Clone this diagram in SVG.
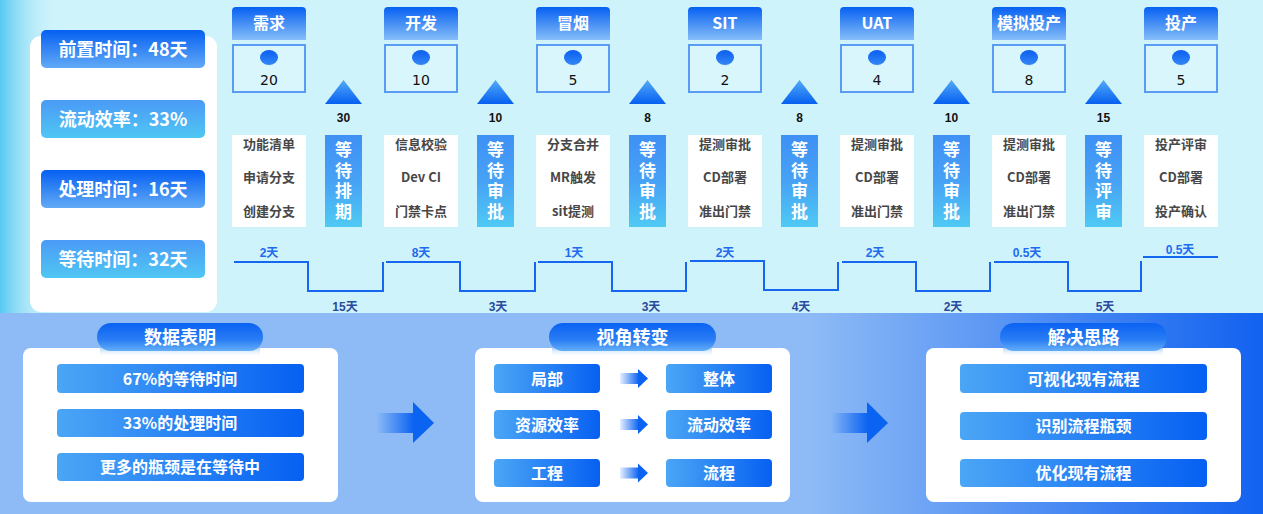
<svg xmlns="http://www.w3.org/2000/svg" width="1263" height="514" viewBox="0 0 1263 514">
<defs>
<linearGradient id="gHead" x1="0" y1="0" x2="0" y2="1"><stop offset="0" stop-color="#0660F2"/><stop offset="1" stop-color="#86BEF8"/></linearGradient>
<linearGradient id="gMA" x1="0" y1="0" x2="0" y2="1"><stop offset="0" stop-color="#0660F2"/><stop offset="1" stop-color="#62AAF6"/></linearGradient>
<linearGradient id="gMB" x1="0" y1="0" x2="0" y2="1"><stop offset="0" stop-color="#4A9AF6"/><stop offset="1" stop-color="#50C7F3"/></linearGradient>
<linearGradient id="gTri" x1="0" y1="0" x2="0" y2="1"><stop offset="0" stop-color="#52AAF6"/><stop offset="1" stop-color="#0660F1"/></linearGradient>
<linearGradient id="gWait" x1="0" y1="0" x2="0" y2="1"><stop offset="0" stop-color="#3F90F5"/><stop offset="0.5" stop-color="#47A2F5"/><stop offset="1" stop-color="#4FCAF4"/></linearGradient>
<linearGradient id="gItem" x1="0" y1="0" x2="1" y2="0"><stop offset="0" stop-color="#4BA6F6"/><stop offset="1" stop-color="#0660F2"/></linearGradient>
<linearGradient id="gPill" x1="0" y1="0" x2="0" y2="1"><stop offset="0" stop-color="#0A62F2"/><stop offset="0.6" stop-color="#2A7DF4"/><stop offset="1" stop-color="#63AEF7"/></linearGradient>
<linearGradient id="gRefl" x1="0" y1="0" x2="0" y2="1"><stop offset="0" stop-color="#8CC0F8" stop-opacity="0.7"/><stop offset="1" stop-color="#FFFFFF" stop-opacity="0"/></linearGradient>
<linearGradient id="gDot" x1="0" y1="0" x2="0" y2="1"><stop offset="0" stop-color="#0A5FF0"/><stop offset="1" stop-color="#3486F4"/></linearGradient>
<linearGradient id="gABody" x1="0" y1="0" x2="1" y2="0"><stop offset="0" stop-color="#0B63F2" stop-opacity="0"/><stop offset="1" stop-color="#0B63F2"/></linearGradient>
<linearGradient id="gSBody" x1="0" y1="0" x2="1" y2="0"><stop offset="0" stop-color="#0B63F2" stop-opacity="0.1"/><stop offset="1" stop-color="#0B63F2"/></linearGradient>
<linearGradient id="gBot" x1="0" y1="0" x2="1" y2="0"><stop offset="0" stop-color="#8EBBF6"/><stop offset="0.64" stop-color="#8EBBF6"/><stop offset="1" stop-color="#1262F0"/></linearGradient>
<linearGradient id="gStrip" x1="0" y1="0" x2="1" y2="0"><stop offset="0" stop-color="#55C8F1"/><stop offset="1" stop-color="#CFF3FB" stop-opacity="0"/></linearGradient>
<style>
.cj{font-family:"Noto Sans CJK SC","Noto Sans",sans-serif;font-weight:bold;}
.wt{fill:#FFFFFF;text-anchor:middle;}
.metric{font-size:18px;}
.head{font-size:16px;}
.task{font-size:13px;fill:#474747;text-anchor:middle;}
.vert{font-size:17px;fill:#FFFFFF;writing-mode:vertical-rl;text-anchor:start;letter-spacing:3.5px;}
.num{font-family:"DejaVu Sans",sans-serif;font-size:14px;fill:#111;text-anchor:middle;}
.tnum{font-family:"Liberation Sans",Arial,sans-serif;font-weight:bold;font-size:12px;fill:#111;text-anchor:middle;}
.tl{font-family:"Liberation Sans","Noto Sans CJK SC",sans-serif;font-weight:bold;font-size:12px;text-anchor:middle;}
.tup{fill:#1E6BEF;}
.tdn{fill:#2A4A9C;}
.sbox{fill:#D9F6FD;stroke:#5A9CF3;stroke-width:2;}
.tbox{fill:#FFFFFF;}
.step{fill:none;stroke:#1567F0;stroke-width:2;}
.panel{fill:#FFFFFF;}
.title{font-size:18px;}
.item{font-size:16px;}
</style>
</defs>

<!-- backgrounds -->
<rect x="0" y="0" width="1263" height="314" fill="#CFF3FB"/>
<rect x="0" y="0" width="60" height="314" fill="url(#gStrip)"/>
<rect x="0" y="313" width="1263" height="201" fill="url(#gBot)"/>

<!-- left metrics -->
<g id="metrics">
<rect x="30" y="36" width="187" height="276" rx="11" class="panel"/>
<rect x="41" y="30" width="164" height="38" rx="5" fill="url(#gMA)"/>
<text x="123" y="56" class="cj wt metric">前置时间：48天</text>
<rect x="41" y="100" width="164" height="38" rx="5" fill="url(#gMB)"/>
<text x="123" y="126" class="cj wt metric">流动效率：33%</text>
<rect x="41" y="170" width="164" height="38" rx="5" fill="url(#gMA)"/>
<text x="123" y="196" class="cj wt metric">处理时间：16天</text>
<rect x="41" y="240" width="164" height="38" rx="5" fill="url(#gMB)"/>
<text x="123" y="266" class="cj wt metric">等待时间：32天</text>
</g>

<!-- stages -->
<g id="stage-xuqiu">
<path d="M232 40 V11 Q232 7 236 7 H302 Q306 7 306 11 V40 Z" fill="url(#gHead)"/>
<text x="269" y="29" class="cj wt head">需求</text>
<rect x="233" y="45" width="72" height="47" class="sbox"/>
<ellipse cx="269" cy="57.5" rx="9" ry="7.5" fill="url(#gDot)"/>
<text x="269" y="85" class="num">20</text>
<rect x="232" y="135" width="74" height="92" class="tbox"/>
<text x="269" y="149" class="cj task">功能清单</text>
<text x="269" y="182" class="cj task">申请分支</text>
<text x="269" y="216" class="cj task">创建分支</text>
</g>
<g id="stage-kaifa">
<path d="M384 40 V11 Q384 7 388 7 H454 Q458 7 458 11 V40 Z" fill="url(#gHead)"/>
<text x="421" y="29" class="cj wt head">开发</text>
<rect x="385" y="45" width="72" height="47" class="sbox"/>
<ellipse cx="421" cy="57.5" rx="9" ry="7.5" fill="url(#gDot)"/>
<text x="421" y="85" class="num">10</text>
<rect x="384" y="135" width="74" height="92" class="tbox"/>
<text x="421" y="149" class="cj task">信息校验</text>
<text x="421" y="182" class="cj task">Dev CI</text>
<text x="421" y="216" class="cj task">门禁卡点</text>
</g>
<g id="stage-maoyan">
<path d="M536 40 V11 Q536 7 540 7 H606 Q610 7 610 11 V40 Z" fill="url(#gHead)"/>
<text x="573" y="29" class="cj wt head">冒烟</text>
<rect x="537" y="45" width="72" height="47" class="sbox"/>
<ellipse cx="573" cy="57.5" rx="9" ry="7.5" fill="url(#gDot)"/>
<text x="573" y="85" class="num">5</text>
<rect x="536" y="135" width="74" height="92" class="tbox"/>
<text x="573" y="149" class="cj task">分支合并</text>
<text x="573" y="182" class="cj task">MR触发</text>
<text x="573" y="216" class="cj task">sit提测</text>
</g>
<g id="stage-sit">
<path d="M688 40 V11 Q688 7 692 7 H758 Q762 7 762 11 V40 Z" fill="url(#gHead)"/>
<text x="725" y="29" class="cj wt head">SIT</text>
<rect x="689" y="45" width="72" height="47" class="sbox"/>
<ellipse cx="725" cy="57.5" rx="9" ry="7.5" fill="url(#gDot)"/>
<text x="725" y="85" class="num">2</text>
<rect x="688" y="135" width="74" height="92" class="tbox"/>
<text x="725" y="149" class="cj task">提测审批</text>
<text x="725" y="182" class="cj task">CD部署</text>
<text x="725" y="216" class="cj task">准出门禁</text>
</g>
<g id="stage-uat">
<path d="M840 40 V11 Q840 7 844 7 H910 Q914 7 914 11 V40 Z" fill="url(#gHead)"/>
<text x="877" y="29" class="cj wt head">UAT</text>
<rect x="841" y="45" width="72" height="47" class="sbox"/>
<ellipse cx="877" cy="57.5" rx="9" ry="7.5" fill="url(#gDot)"/>
<text x="877" y="85" class="num">4</text>
<rect x="840" y="135" width="74" height="92" class="tbox"/>
<text x="877" y="149" class="cj task">提测审批</text>
<text x="877" y="182" class="cj task">CD部署</text>
<text x="877" y="216" class="cj task">准出门禁</text>
</g>
<g id="stage-moni">
<path d="M992 40 V11 Q992 7 996 7 H1062 Q1066 7 1066 11 V40 Z" fill="url(#gHead)"/>
<text x="1029" y="29" class="cj wt head">模拟投产</text>
<rect x="993" y="45" width="72" height="47" class="sbox"/>
<ellipse cx="1029" cy="57.5" rx="9" ry="7.5" fill="url(#gDot)"/>
<text x="1029" y="85" class="num">8</text>
<rect x="992" y="135" width="74" height="92" class="tbox"/>
<text x="1029" y="149" class="cj task">提测审批</text>
<text x="1029" y="182" class="cj task">CD部署</text>
<text x="1029" y="216" class="cj task">准出门禁</text>
</g>
<g id="stage-touchan">
<path d="M1144 40 V11 Q1144 7 1148 7 H1214 Q1218 7 1218 11 V40 Z" fill="url(#gHead)"/>
<text x="1181" y="29" class="cj wt head">投产</text>
<rect x="1145" y="45" width="72" height="47" class="sbox"/>
<ellipse cx="1181" cy="57.5" rx="9" ry="7.5" fill="url(#gDot)"/>
<text x="1181" y="85" class="num">5</text>
<rect x="1144" y="135" width="74" height="92" class="tbox"/>
<text x="1181" y="149" class="cj task">投产评审</text>
<text x="1181" y="182" class="cj task">CD部署</text>
<text x="1181" y="216" class="cj task">投产确认</text>
</g>

<!-- waits -->
<g id="wait-1">
<polygon points="343.5,80 362,104 325,104" fill="url(#gTri)"/>
<text x="343.5" y="122" class="tnum">30</text>
<rect x="325" y="135" width="37" height="92" fill="url(#gWait)"/>
<text x="343.5" y="141.5" class="cj vert">等待排期</text>
</g>
<g id="wait-2">
<polygon points="495.5,80 514,104 477,104" fill="url(#gTri)"/>
<text x="495.5" y="122" class="tnum">10</text>
<rect x="477" y="135" width="37" height="92" fill="url(#gWait)"/>
<text x="495.5" y="141.5" class="cj vert">等待审批</text>
</g>
<g id="wait-3">
<polygon points="647.5,80 666,104 629,104" fill="url(#gTri)"/>
<text x="647.5" y="122" class="tnum">8</text>
<rect x="629" y="135" width="37" height="92" fill="url(#gWait)"/>
<text x="647.5" y="141.5" class="cj vert">等待审批</text>
</g>
<g id="wait-4">
<polygon points="799.5,80 818,104 781,104" fill="url(#gTri)"/>
<text x="799.5" y="122" class="tnum">8</text>
<rect x="781" y="135" width="37" height="92" fill="url(#gWait)"/>
<text x="799.5" y="141.5" class="cj vert">等待审批</text>
</g>
<g id="wait-5">
<polygon points="951.5,80 970,104 933,104" fill="url(#gTri)"/>
<text x="951.5" y="122" class="tnum">10</text>
<rect x="933" y="135" width="37" height="92" fill="url(#gWait)"/>
<text x="951.5" y="141.5" class="cj vert">等待审批</text>
</g>
<g id="wait-6">
<polygon points="1103.5,80 1122,104 1085,104" fill="url(#gTri)"/>
<text x="1103.5" y="122" class="tnum">15</text>
<rect x="1085" y="135" width="37" height="92" fill="url(#gWait)"/>
<text x="1103.5" y="141.5" class="cj vert">等待评审</text>
</g>

<!-- timeline connectors -->
<g id="connectors">
<path class="step" d="M234 262 H308 V291 H383 V262"/>
<path class="step" d="M386 262 H460 V291 H535 V262"/>
<path class="step" d="M538 262 H612 V291 H686 V262"/>
<path class="step" d="M690 261 H764 V290 H838 V262"/>
<path class="step" d="M842 262 H916 V291 H990 V262"/>
<path class="step" d="M994 262 H1068 V291 H1141 V261"/>
<path class="step" d="M1143 257 H1218"/>
<text x="269" y="257" class="tl tup">2天</text>
<text x="421" y="257" class="tl tup">8天</text>
<text x="574" y="257" class="tl tup">1天</text>
<text x="725" y="257" class="tl tup">2天</text>
<text x="875" y="257" class="tl tup">2天</text>
<text x="1027" y="257" class="tl tup">0.5天</text>
<text x="1180" y="254" class="tl tup">0.5天</text>
<text x="345" y="311" class="tl tdn">15天</text>
<text x="498" y="311" class="tl tdn">3天</text>
<text x="651" y="311" class="tl tdn">3天</text>
<text x="801" y="311" class="tl tdn">4天</text>
<text x="953" y="311" class="tl tdn">2天</text>
<text x="1105" y="311" class="tl tdn">5天</text>
<!-- big arrows -->
<rect x="376" y="413" width="38" height="20" fill="url(#gABody)"/>
<polygon points="413,402 434,423 413,443" fill="#0B63F2"/>
<rect x="831" y="413" width="37" height="20" fill="url(#gABody)"/>
<polygon points="867,402 888,423 867,443" fill="#0B63F2"/>
</g>

<!-- section 1 -->
<g id="sec-data">
<rect x="23" y="348" width="315" height="154" rx="8" class="panel"/>
<rect x="100" y="348" width="160" height="9" fill="url(#gRefl)"/>
<rect x="97" y="323" width="166" height="28" rx="14" fill="url(#gPill)"/>
<text x="180" y="343.5" class="cj wt title">数据表明</text>
<rect x="57" y="364" width="247" height="29" rx="4" fill="url(#gItem)"/>
<text x="180" y="384.5" class="cj wt item">67%的等待时间</text>
<rect x="57" y="409" width="247" height="28" rx="4" fill="url(#gItem)"/>
<text x="180" y="429" class="cj wt item">33%的处理时间</text>
<rect x="57" y="453" width="247" height="28" rx="4" fill="url(#gItem)"/>
<text x="180" y="473" class="cj wt item">更多的瓶颈是在等待中</text>
</g>

<!-- section 2 -->
<g id="sec-view">
<rect x="475" y="348" width="315" height="154" rx="8" class="panel"/>
<rect x="552" y="348" width="160" height="9" fill="url(#gRefl)"/>
<rect x="549" y="323" width="167" height="28" rx="14" fill="url(#gPill)"/>
<text x="632.5" y="343.5" class="cj wt title">视角转变</text>
<rect x="494" y="364" width="106" height="29" rx="4" fill="url(#gItem)"/>
<text x="547" y="384.5" class="cj wt item">局部</text>
<rect x="666" y="364" width="106" height="29" rx="4" fill="url(#gItem)"/>
<text x="719" y="384.5" class="cj wt item">整体</text>
<rect x="494" y="410" width="106" height="29" rx="4" fill="url(#gItem)"/>
<text x="547" y="430.5" class="cj wt item">资源效率</text>
<rect x="666" y="410" width="106" height="29" rx="4" fill="url(#gItem)"/>
<text x="719" y="430.5" class="cj wt item">流动效率</text>
<rect x="494" y="459" width="106" height="28" rx="4" fill="url(#gItem)"/>
<text x="547" y="479" class="cj wt item">工程</text>
<rect x="666" y="459" width="106" height="28" rx="4" fill="url(#gItem)"/>
<text x="719" y="479" class="cj wt item">流程</text>
<rect x="620" y="373" width="19" height="11" fill="url(#gSBody)"/>
<polygon points="638,369 648,378.5 638,388" fill="#0B63F2"/>
<rect x="620" y="419" width="19" height="11" fill="url(#gSBody)"/>
<polygon points="638,415 648,424.5 638,434" fill="#0B63F2"/>
<rect x="620" y="467.5" width="19" height="11" fill="url(#gSBody)"/>
<polygon points="638,463.5 648,473 638,482.5" fill="#0B63F2"/>
</g>

<!-- section 3 -->
<g id="sec-solve">
<rect x="926" y="348" width="315" height="154" rx="8" class="panel"/>
<rect x="1003" y="348" width="160" height="9" fill="url(#gRefl)"/>
<rect x="1000" y="323" width="167" height="28" rx="14" fill="url(#gPill)"/>
<text x="1083.5" y="343.5" class="cj wt title">解决思路</text>
<rect x="960" y="364" width="247" height="29" rx="4" fill="url(#gItem)"/>
<text x="1083.5" y="384.5" class="cj wt item">可视化现有流程</text>
<rect x="960" y="412" width="247" height="28" rx="4" fill="url(#gItem)"/>
<text x="1083.5" y="432" class="cj wt item">识别流程瓶颈</text>
<rect x="960" y="459" width="247" height="28" rx="4" fill="url(#gItem)"/>
<text x="1083.5" y="479" class="cj wt item">优化现有流程</text>
</g>
</svg>
